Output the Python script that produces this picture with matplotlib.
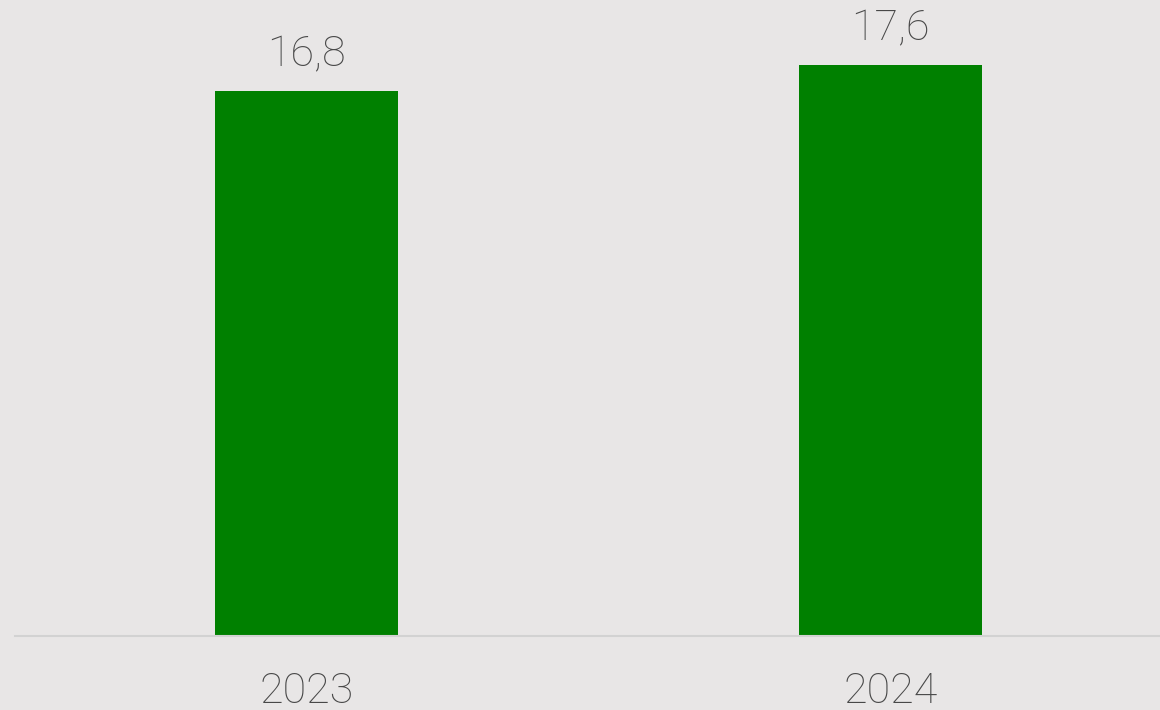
import matplotlib.pyplot as plt

# データ
years = ['2023', '2024']
values = [16.8, 17.6]
labels = ['16,8', '17,6']

plt.rcParams['font.family'] = ['Roboto', 'DejaVu Sans']

fig = plt.figure(figsize=(11.6, 7.1), dpi=100)
fig.patch.set_facecolor('#e8e6e6')
ax = fig.add_axes([15 / 1160, 74 / 710, 1 - 15 / 1160, 636 / 710])
ax.set_facecolor('#e8e6e6')

x = range(len(years))
bars = ax.bar(x, values, width=0.313, color='#008000')

ax.set_xlim(-0.499, 1.4615)
ax.set_ylim(0, 19.6)

# 値ラベル
for b, lab in zip(bars, labels):
    ax.annotate(lab, (b.get_x() + b.get_width() / 2, b.get_height()),
                xytext=(0, 11), textcoords='offset points',
                ha='center', va='bottom', fontsize=31, fontweight='light',
                color='#484848')

ax.set_xticks(list(x))
ax.set_xticklabels(years, fontsize=31, fontweight='light', color='#484848')
ax.tick_params(axis='x', length=0, pad=25)
ax.set_yticks([])

for s in ['top', 'right', 'left']:
    ax.spines[s].set_visible(False)
ax.spines['bottom'].set_color('#d2d2d2')
ax.spines['bottom'].set_linewidth(1.5)

fig.savefig('out.png', dpi=100, facecolor=fig.get_facecolor())
